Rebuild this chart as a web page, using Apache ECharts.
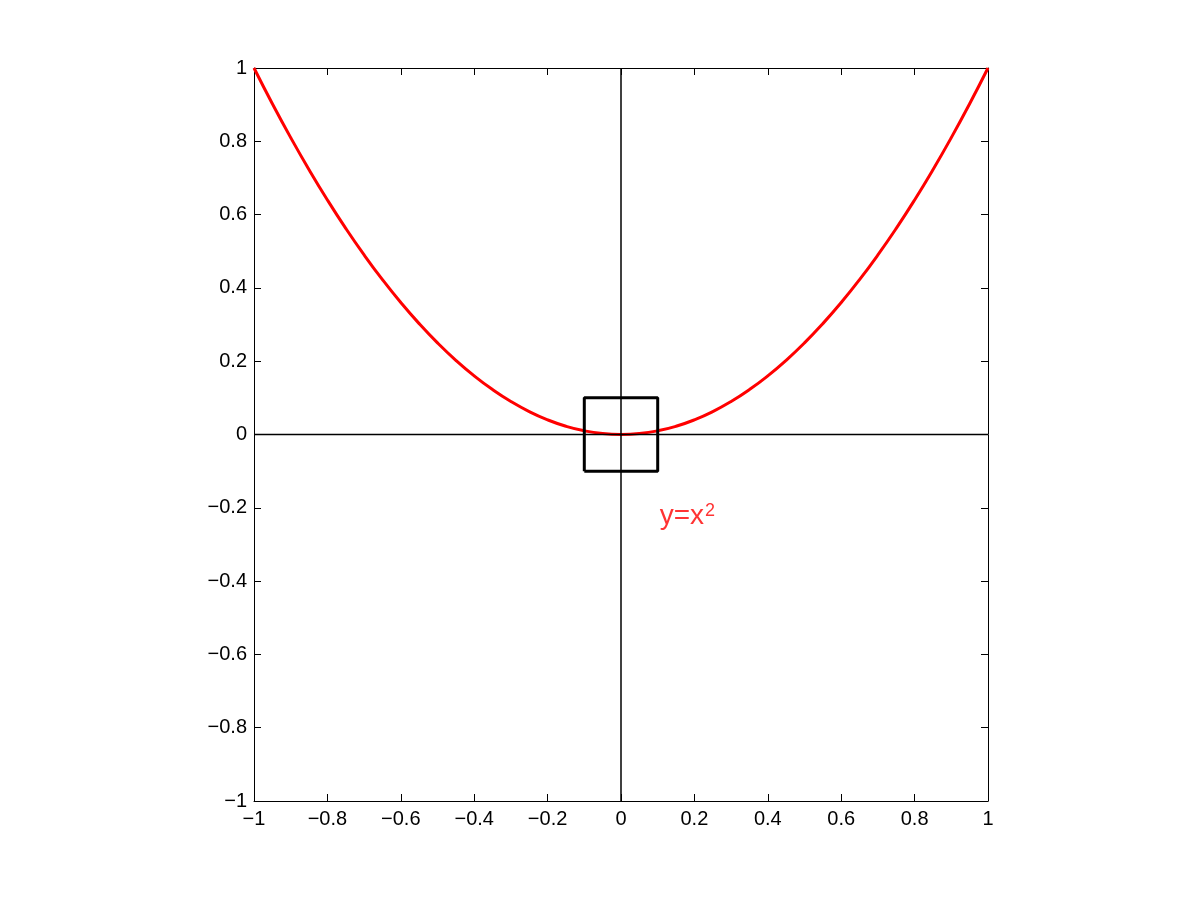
<!DOCTYPE html>
<html>
<head>
<meta charset="utf-8">
<script src="https://cdn.jsdelivr.net/npm/echarts@6/dist/echarts.min.js"></script>
<style>html,body{margin:0;padding:0;background:#fff;}#c{width:1201px;height:901px;}</style>
</head>
<body>
<div id="c"></div>
<script>
var curveX = [-1,-0.95,-0.9,-0.85,-0.8,-0.75,-0.7,-0.65,-0.6,-0.55,-0.5,-0.45,-0.4,-0.35,-0.3,-0.25,-0.2,-0.15,-0.1,-0.05,0,0.05,0.1,0.15,0.2,0.25,0.3,0.35,0.4,0.45,0.5,0.55,0.6,0.65,0.7,0.75,0.8,0.85,0.9,0.95,1];
var curveY = [1,0.9025,0.81,0.7225,0.64,0.5625,0.49,0.4225,0.36,0.3025,0.25,0.2025,0.16,0.1225,0.09,0.0625,0.04,0.0225,0.01,0.0025,0,0.0025,0.01,0.0225,0.04,0.0625,0.09,0.1225,0.16,0.2025,0.25,0.3025,0.36,0.4225,0.49,0.5625,0.64,0.7225,0.81,0.9025,1];
var boxX = [-0.1,0.1,0.1,-0.1,-0.1];
var boxY = [-0.1,-0.1,0.1,0.1,-0.1];
var hAxisX = [-1,1], hAxisY = [0,0];
var vAxisX = [0,0], vAxisY = [-1,1];
var labelPos = [0.1, -0.22];
var labelText = 'y=x';
var labelSup = '2';

function zip(a,b){return a.map(function(v,i){return [v,b[i]];});}
function fmt(v){var s = (Math.round(v*10)/10).toString(); return s.replace('-', '\u2212');}

var chart = echarts.init(document.getElementById('c'));
var axisCommon = {
  type:'value', min:-1, max:1, interval:0.2,
  axisLine:{show:true, onZero:false, lineStyle:{color:'#000', width:1}},
  axisTick:{show:true, inside:true, length:7, lineStyle:{color:'#000', width:1}},
  splitLine:{show:false}
};
chart.setOption({
  animation:false,
  backgroundColor:'#fff',
  textStyle:{fontFamily:'Liberation Sans, Arial, sans-serif'},
  grid:{left:254, right:213, top:68, bottom:100, containLabel:false},
  xAxis:[
    Object.assign({}, axisCommon, {position:'bottom', axisLabel:{show:true, color:'#000', fontSize:20, margin:8, formatter:fmt, fontFamily:'Liberation Sans'}}),
    Object.assign({}, axisCommon, {position:'top', axisLabel:{show:false}})
  ],
  yAxis:[
    Object.assign({}, axisCommon, {position:'left', axisLabel:{show:true, color:'#000', fontSize:20, margin:7, formatter:fmt, fontFamily:'Liberation Sans'}}),
    Object.assign({}, axisCommon, {position:'right', axisLabel:{show:false}})
  ],
  series:[
    {type:'line', data:zip(curveX,curveY), smooth:true, symbol:'none', lineStyle:{color:'#ff0000', width:3}, z:2},
    {type:'line', data:zip(hAxisX,hAxisY), symbol:'none', lineStyle:{color:'#000', width:1.5}, z:3},
    {type:'line', data:zip(vAxisX,vAxisY), symbol:'none', lineStyle:{color:'#000', width:1.5}, z:3},
    {type:'line', data:zip(boxX,boxY), symbol:'none', lineStyle:{color:'#000', width:3}, z:4},
    {type:'scatter', data:[labelPos], symbolSize:0, z:5,
      label:{show:true, position:'right', distance:0, offset:[2,1],
        formatter:function(){return '{b|'+labelText+'}{s|'+labelSup+'}';},
        rich:{
          b:{fontSize:28, color:'#ff0000', fontFamily:'Liberation Sans', verticalAlign:'bottom', lineHeight:28},
          s:{fontSize:18, color:'#ff0000', fontFamily:'Liberation Sans', verticalAlign:'top', lineHeight:18, padding:[0,0,16,1]}
        }
      }
    }
  ]
});
</script>
</body>
</html>
